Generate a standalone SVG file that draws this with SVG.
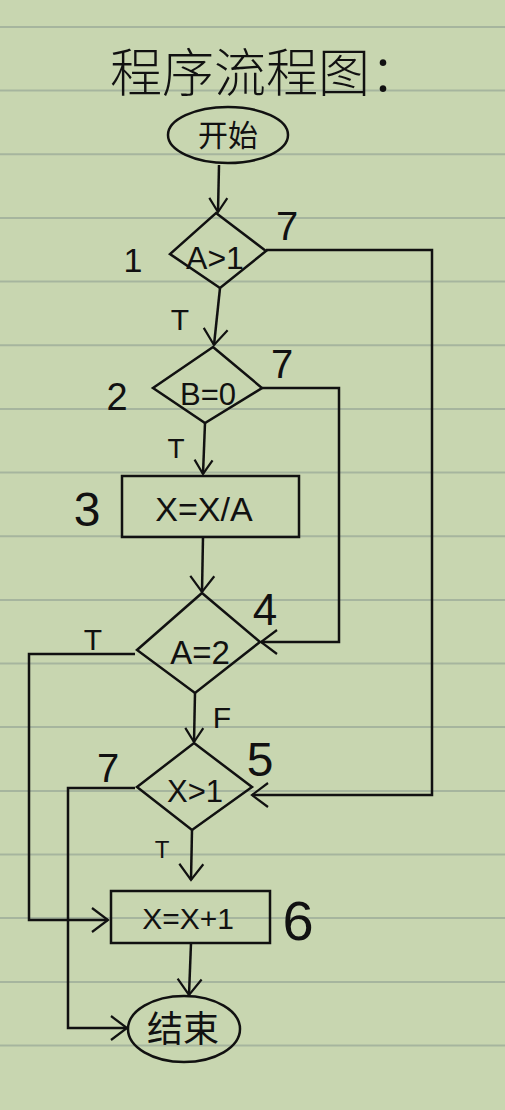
<svg xmlns="http://www.w3.org/2000/svg" width="505" height="1110" viewBox="0 0 505 1110">
<style>
.bg{fill:#c8d6b0}
.rule{stroke:#a6b59e;stroke-width:2}
.shape{fill:none;stroke:#111;stroke-width:2.5}
.conn{fill:none;stroke:#111;stroke-width:2.5}
.t{font-family:"Liberation Sans","Noto Sans CJK SC",sans-serif;fill:#111;text-anchor:middle}
.cjk{font-family:"Noto Sans CJK SC","Noto Sans CJK JP",sans-serif;fill:#111;text-anchor:middle}
</style>
<defs>
<marker id="arr" markerUnits="userSpaceOnUse" markerWidth="40" markerHeight="40" refX="20" refY="20" orient="auto">
<path d="M4,8 L20,20 L4,32" fill="none" stroke="#111" stroke-width="2.2"/>
</marker>
<marker id="arrS" markerUnits="userSpaceOnUse" markerWidth="40" markerHeight="40" refX="20" refY="20" orient="auto">
<path d="M6,11 L20,20 L6,29" fill="none" stroke="#111" stroke-width="2.2"/>
</marker>
</defs>
<rect class="bg" x="0" y="0" width="505" height="1110"/>
<g id="paper-lines">
<line class="rule" x1="0" y1="27" x2="505" y2="27"/>
<line class="rule" x1="0" y1="90.6" x2="505" y2="90.6"/>
<line class="rule" x1="0" y1="154.3" x2="505" y2="154.3"/>
<line class="rule" x1="0" y1="218" x2="505" y2="218"/>
<line class="rule" x1="0" y1="281.6" x2="505" y2="281.6"/>
<line class="rule" x1="0" y1="345.2" x2="505" y2="345.2"/>
<line class="rule" x1="0" y1="409" x2="505" y2="409"/>
<line class="rule" x1="0" y1="472.5" x2="505" y2="472.5"/>
<line class="rule" x1="0" y1="536.2" x2="505" y2="536.2"/>
<line class="rule" x1="0" y1="600" x2="505" y2="600"/>
<line class="rule" x1="0" y1="663.5" x2="505" y2="663.5"/>
<line class="rule" x1="0" y1="727" x2="505" y2="727"/>
<line class="rule" x1="0" y1="791" x2="505" y2="791"/>
<line class="rule" x1="0" y1="854.5" x2="505" y2="854.5"/>
<line class="rule" x1="0" y1="918" x2="505" y2="918"/>
<line class="rule" x1="0" y1="982" x2="505" y2="982"/>
<line class="rule" x1="0" y1="1045.4" x2="505" y2="1045.4"/>
</g>
<g id="title">
<text class="cjk" x="266" y="92" font-size="52" font-weight="300">程序流程图：</text>
</g>
<g id="connectors">
<path class="conn" d="M219,165 L218,212" marker-end="url(#arrS)"/>
<path class="conn" d="M220,288 L214,345" marker-end="url(#arr)"/>
<path class="conn" d="M266,250 L432,250 L432,795 L252,795" marker-end="url(#arr)"/>
<path class="conn" d="M205,423 L203,474" marker-end="url(#arrS)"/>
<path class="conn" d="M262,388 L339,388 L339,642 L261,642" marker-end="url(#arr)"/>
<path class="conn" d="M203,537 L202,592" marker-end="url(#arr)"/>
<path class="conn" d="M135,654 L29,654 L29,920 L108,920" marker-end="url(#arr)"/>
<path class="conn" d="M195,693 L194,742" marker-end="url(#arrS)"/>
<path class="conn" d="M135,788 L68,788 L68,1028 L127,1028" marker-end="url(#arr)"/>
<path class="conn" d="M192,830 L191,880" marker-end="url(#arr)"/>
<path class="conn" d="M191,943 L189,995" marker-end="url(#arr)"/>
<text class="t" x="180" y="330" font-size="30">T</text>
<text class="t" x="176" y="458" font-size="28">T</text>
<text class="t" x="93" y="650" font-size="30">T</text>
<text class="t" x="222" y="728" font-size="30">F</text>
<text class="t" x="162" y="858" font-size="24">T</text>
<text class="t" x="287" y="240" font-size="40">7</text>
<text class="t" x="282" y="378" font-size="40">7</text>
<text class="t" x="108" y="782" font-size="40">7</text>
</g>
<g id="start">
<ellipse class="shape" cx="228" cy="135" rx="60" ry="28"/>
<text class="cjk" x="228" y="146" font-size="30">开始</text>
</g>
<g id="node1">
<polygon class="shape" points="216,213 266,251 220,288 170,254"/>
<text class="t" x="215" y="269" font-size="32">A&gt;1</text>
<text class="t" x="133" y="272" font-size="34">1</text>
</g>
<g id="node2">
<polygon class="shape" points="213,347 262,388 205,423 153,388"/>
<text class="t" x="208" y="405" font-size="31">B=0</text>
<text class="t" x="117" y="410" font-size="38">2</text>
</g>
<g id="node3">
<rect class="shape" x="122" y="476" width="177" height="61" stroke-width="3"/>
<text class="t" x="204" y="521" font-size="34">X=X/A</text>
<text class="t" x="87" y="526" font-size="48">3</text>
</g>
<g id="node4">
<polygon class="shape" points="202,593 260,642 195,693 137,650"/>
<text class="t" x="200" y="664" font-size="33">A=2</text>
<text class="t" x="265" y="625" font-size="44">4</text>
</g>
<g id="node5">
<polygon class="shape" points="194,743 252,787 192,830 137,787"/>
<text class="t" x="195" y="802" font-size="31">X&gt;1</text>
<text class="t" x="260" y="776" font-size="48">5</text>
</g>
<g id="node6">
<rect class="shape" x="111" y="891" width="159" height="52"/>
<text class="t" x="188" y="929" font-size="30">X=X+1</text>
<text class="t" x="298" y="940" font-size="56">6</text>
</g>
<g id="end">
<ellipse class="shape" cx="184" cy="1029" rx="56" ry="33"/>
<text class="cjk" x="183" y="1042" font-size="36">结束</text>
</g>
</svg>
